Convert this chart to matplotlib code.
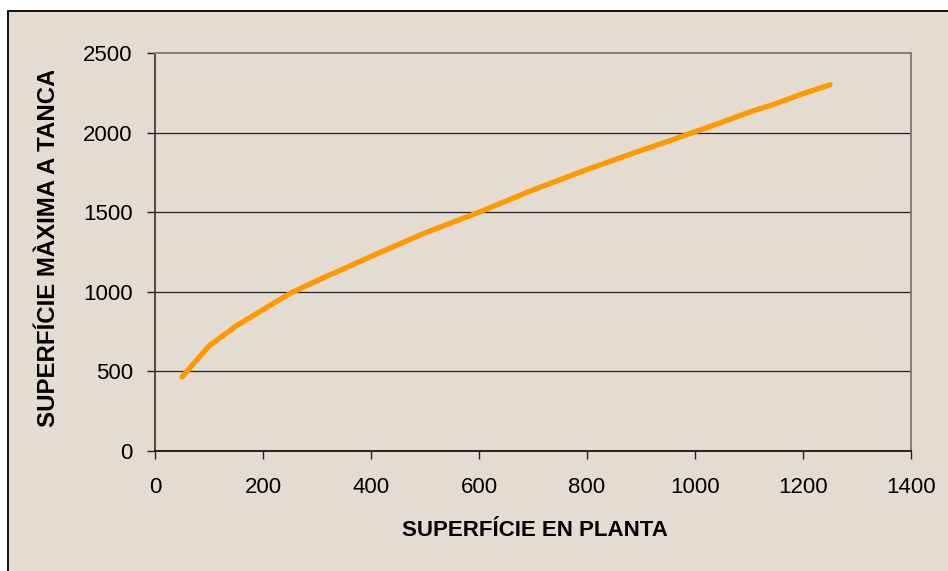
import matplotlib.pyplot as plt
from matplotlib.patches import Rectangle
from matplotlib.transforms import Bbox

# dades llegides del gràfic
superficie_planta = [50, 100, 150, 200, 250, 300, 400, 500, 600, 700, 800,
                     900, 950, 1000, 1050, 1100, 1150, 1200, 1250]
superficie_maxima = [465, 660, 785, 888, 990, 1070, 1222, 1370, 1500, 1640,
                     1768, 1888, 1945, 2005, 2065, 2128, 2182, 2245, 2300]
xticks = [0, 200, 400, 600, 800, 1000, 1200, 1400]
yticks = [0, 500, 1000, 1500, 2000, 2500]

W, H = 948, 571
fons = '#e4dcd1'

plt.rcParams['font.family'] = ['Liberation Sans', 'DejaVu Sans']

fig = plt.figure(figsize=(W / 100, H / 100), dpi=100, facecolor='white')

# marc exterior del gràfic
fig.patches.append(Rectangle((8 / W, -0.05), 1.2, 1 - 11 / H + 0.05,
                             transform=fig.transFigure, facecolor=fons,
                             edgecolor='black', linewidth=1.3, zorder=-10))

ax = fig.add_axes([155 / W, 1 - 451 / H, (911 - 155) / W, (451 - 53) / H])
ax.set_facecolor('none')

ax.plot(superficie_planta, superficie_maxima, color='#ff9900', linewidth=3.8,
        solid_capstyle='round', solid_joinstyle='round', zorder=3)

ax.set_xlim(0, 1400)
ax.set_ylim(0, 2500)
ax.set_xticks(xticks)
ax.set_yticks(yticks)
ax.tick_params(axis='both', labelsize=16, length=6, width=1, color='#222222',
               direction='out')
ax.tick_params(axis='x', pad=13)
ax.tick_params(axis='y', pad=10)

for v in yticks[1:-1]:
    ax.axhline(v, color='#222222', linewidth=0.9, zorder=1)

ax.spines['left'].set_color('#333333')
ax.spines['bottom'].set_color('#222222')
ax.spines['left'].set_linewidth(1.2)
ax.spines['bottom'].set_linewidth(1.4)
ax.spines['top'].set_color('#808080')
ax.spines['right'].set_color('#808080')
ax.spines['top'].set_linewidth(1.4)
ax.spines['right'].set_linewidth(1.4)

fig.text(535 / W, 1 - 531 / H, 'SUPERFÍCIE EN PLANTA', ha='center',
         va='center', fontsize=16, fontweight='bold')

# l'etiqueta de l'eix y queda tallada per dalt, com a l'original
yl = fig.text(49 / W, 1 - 427 / H, 'SUPERFÍCIE MÀXIMA A TANCAR', rotation=90,
              ha='center', va='bottom', fontsize=17.3, fontweight='bold')
yl.set_clip_box(Bbox.from_extents(0, 0, W, H - 71))
yl.set_clip_on(True)

fig.savefig('out.png', dpi=100, facecolor='white')
